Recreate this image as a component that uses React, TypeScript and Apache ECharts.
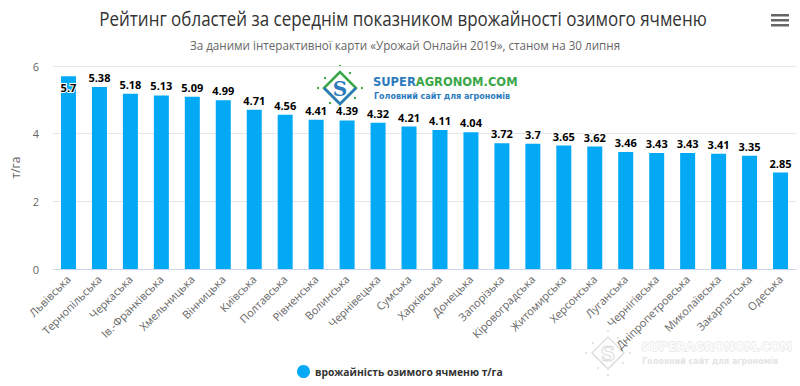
import React, { useEffect, useRef } from "react";
import * as echarts from "echarts";

const categories = [
  "Львівська", "Тернопільська", "Черкаська", "Ів.-Франківська", "Хмельницька", "Вінницька",
  "Київська", "Полтавська", "Рівненська", "Волинська", "Чернівецька", "Сумська",
  "Харківська", "Донецька", "Запорізька", "Кіровоградська", "Житомирська", "Херсонська",
  "Луганська", "Чернігівська", "Дніпропетровська", "Миколаївська", "Закарпатська", "Одеська",
];
const values = [
  5.7, 5.38, 5.18, 5.13, 5.09, 4.99, 4.71, 4.56, 4.41, 4.39, 4.32, 4.21,
  4.11, 4.04, 3.72, 3.7, 3.65, 3.62, 3.46, 3.43, 3.43, 3.41, 3.35, 2.85,
];
const yTicks = { min: 0, max: 6, interval: 2 };
const seriesName = "врожайність озимого ячменю т/га";
const titleText = "Рейтинг областей за середнім показником врожайності озимого ячменю";
const subtitleText = "За даними інтерактивної карти «Урожай Онлайн 2019», станом на 30 липня";

const FONT = "'Open Sans', 'DejaVu Sans', sans-serif";

function logo(x: number, y: number, faded: boolean): any {
  const green = faded ? "#e2e2e2" : "#3aa648";
  const blue = faded ? "#e2e2e2" : "#2b7bbd";
  const dots: any[] = [];
  const pts = [
    [0, -22], [-22, 0], [22, 0], [0, 22], [-15, -10], [15, 10], [-10, 15], [10, -15],
  ];
  pts.forEach((p) =>
    dots.push({ type: "circle", shape: { cx: p[0], cy: p[1], r: 1.2 }, style: { fill: faded ? "#e4e4e4" : "#3aa648" } })
  );
  return {
    type: "group",
    x,
    y,
    silent: true,
    z: faded ? -10 : 10,
    children: [
      ...dots,
      {
        type: "polygon",
        shape: { points: [[0, -16], [-16, 0], [0, 16], [16, 0]] },
        style: { fill: faded ? "none" : "#fff", stroke: green, lineWidth: faded ? 1.5 : 2.5 },
      },
      {
        type: "polyline",
        shape: { points: [[-16, 0], [0, 16], [16, 0]] },
        style: { fill: "none", stroke: blue, lineWidth: faded ? 1.5 : 2.5 },
      },
      {
        type: "text",
        x: 0,
        y: 1,
        style: faded
          ? {
              text: "S",
              fill: "none",
              stroke: "#dcdcdc",
              lineWidth: 1,
              font: "bold 20px 'DejaVu Serif', serif",
              align: "center",
              verticalAlign: "middle",
            }
          : {
              text: "S",
              fill: blue,
              font: "bold 20px 'DejaVu Serif', serif",
              align: "center",
              verticalAlign: "middle",
            },
      },
      {
        type: "text",
        x: 33,
        y: -6,
        style: faded
          ? {
              text: "SUPERAGRONOM.COM",
              fill: "#fbfbfb",
              stroke: "#dedede",
              lineWidth: 0.8,
              font: "bold 12px 'DejaVu Sans', sans-serif",
              verticalAlign: "middle",
            }
          : {
              rich: {
                a: { fill: blue, font: "bold 11.5px 'DejaVu Sans', sans-serif" },
                b: { fill: green, font: "bold 11.5px 'DejaVu Sans', sans-serif" },
              },
              text: "{a|SUPER}{b|AGRONOM.COM}",
              verticalAlign: "middle",
            },
      },
      {
        type: "text",
        x: 34,
        y: 8,
        style: {
          text: "Головний сайт для агрономів",
          fill: faded ? "#e4e4e4" : blue,
          font: "bold 8px 'DejaVu Sans', sans-serif",
          verticalAlign: "middle",
        },
      },
    ],
  };
}

export default function App() {
  const ref = useRef<HTMLDivElement>(null);
  useEffect(() => {
    if (!ref.current) return;
    const chart = echarts.init(ref.current, undefined, { renderer: "svg" });
    const data = values.map((v, i) =>
      i === 0 ? { value: v, label: { position: "insideTop", distance: 6 } } : v
    );
    chart.setOption({
      animation: false,
      backgroundColor: "#fff",
      grid: { left: 53, right: 4, top: 66, bottom: 117 },
      legend: {
        bottom: 3,
        left: 292,
        icon: "circle",
        itemWidth: 13,
        itemHeight: 13,
        itemGap: 8,
        textStyle: { fontFamily: FONT, fontSize: 10.3, fontWeight: "bold", color: "#333" },
        data: [seriesName],
      },
      xAxis: {
        type: "category",
        data: categories,
        axisLine: { lineStyle: { color: "#ccd6eb" } },
        axisTick: { show: false },
        axisLabel: {
          interval: 0,
          rotate: 45,
          margin: 8,
          fontFamily: FONT,
          fontSize: 11,
          color: "#666",
        },
      },
      yAxis: {
        type: "value",
        min: yTicks.min,
        max: yTicks.max,
        interval: yTicks.interval,
        name: "т/га",
        nameLocation: "middle",
        nameGap: 24,
        nameRotate: 90,
        nameTextStyle: { fontFamily: FONT, fontSize: 12, color: "#666" },
        axisLabel: { fontFamily: FONT, fontSize: 11, color: "#666", margin: 14 },
        splitLine: { lineStyle: { color: "#e6e6e6" } },
        axisLine: { show: false },
        axisTick: { show: false },
      },
      series: [
        {
          name: seriesName,
          type: "bar",
          data,
          barWidth: 15,
          itemStyle: { color: "#03a9f4" },
          label: {
            show: true,
            position: "top",
            distance: 4,
            fontFamily: FONT,
            fontSize: 11,
            fontWeight: "bold",
            color: "#000",
            textBorderColor: "#fff",
            textBorderWidth: 2,
          },
        },
      ],
      graphic: [
        {
          type: "text",
          x: 403,
          y: 18,
          scaleX: 0.85,
          style: {
            text: titleText,
            font: "20px 'Open Sans', sans-serif",
            fill: "#333",
            align: "center",
            verticalAlign: "middle",
          },
        },
        {
          type: "text",
          x: 405,
          y: 45,
          scaleX: 0.97,
          style: {
            text: subtitleText,
            font: "12px 'Open Sans', sans-serif",
            fill: "#666",
            align: "center",
            verticalAlign: "middle",
          },
        },
        logo(340, 88, false),
        logo(608, 353, true),
        {
          type: "group",
          x: 771,
          y: 14,
          children: [0, 5, 10].map((dy) => ({
            type: "rect",
            shape: { x: 0, y: dy, width: 18, height: 2.5 },
            style: { fill: "#666" },
          })),
        },
      ],
    });
    return () => chart.dispose();
  }, []);
  return <div ref={ref} style={{ width: 800, height: 386, position: "absolute", left: 0, top: 0 }} />;
}
